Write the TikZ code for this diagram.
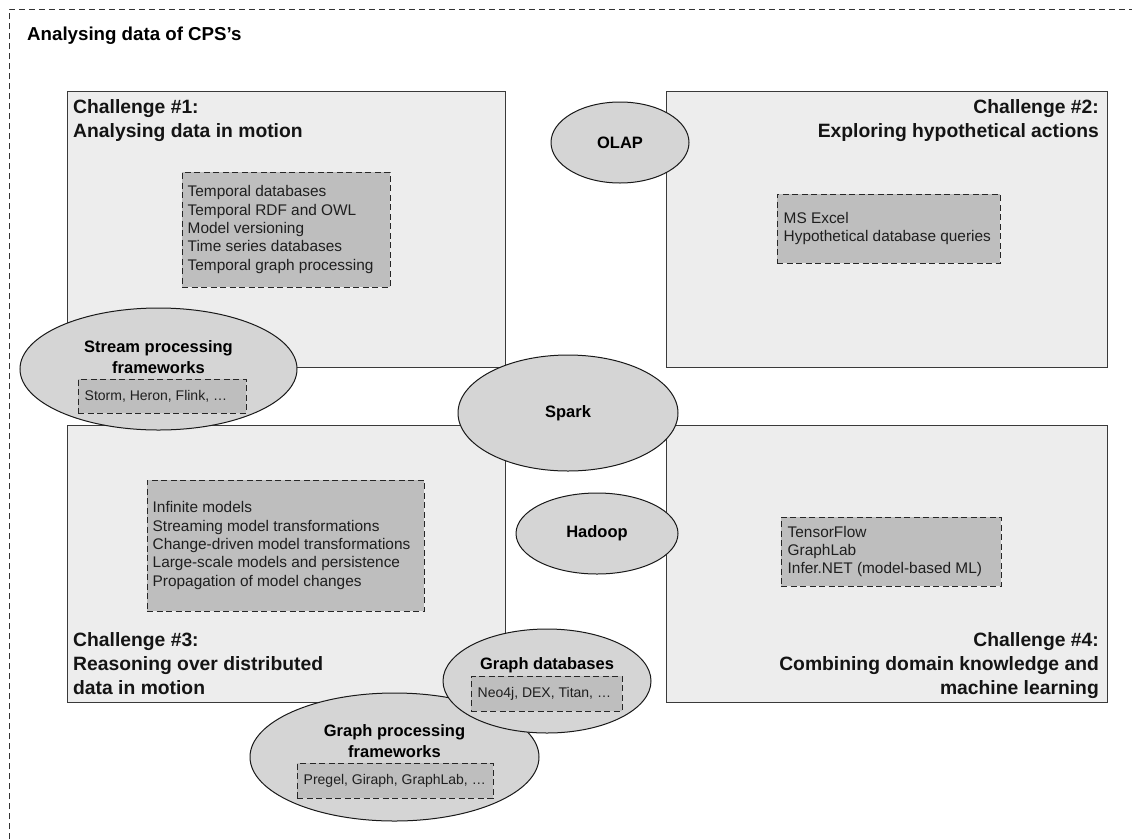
\documentclass[tikz,border=0pt]{standalone}
\usepackage{fontspec}
\setmainfont{Liberation Sans}
\usetikzlibrary{shapes.geometric}
\definecolor{boxfill}{HTML}{EDEDED}
\definecolor{ellfill}{HTML}{D5D5D5}
\definecolor{innerfill}{HTML}{BEBEBE}
\definecolor{boxline}{HTML}{3A3A3A}
\newcommand\myttl{\fontsize{18.7}{22}\selectfont\bfseries}
\newcommand\myhd{\fontsize{19.3}{24}\selectfont\bfseries}
\newcommand\mytx{\fontsize{15.4}{18.3}\selectfont}
\newcommand\mysm{\fontsize{14}{17}\selectfont}
\newcommand\myel{\fontsize{16.5}{21}\selectfont\bfseries}
\tikzset{
  chbox/.style={draw=boxline, line width=1.1pt, fill=boxfill, inner sep=0pt, anchor=north west},
  dbox/.style={draw=black!85, dash pattern=on 6pt off 3.5pt, line width=1pt, fill=innerfill, inner sep=0pt},
  ell/.style={ellipse, draw=black!90, line width=1pt, fill=ellfill, inner sep=0pt, font=\myel},
  hd/.style={inner sep=0pt, font=\myhd, text=black!92},
  itx/.style={inner sep=0pt, align=left, font=\mytx, text=black!88, anchor=west},
  stx/.style={inner sep=0pt, font=\mysm, text=black!88, anchor=west},
  elab/.style={inner sep=0pt, align=center, font=\myel, anchor=base},
  frame/.style={dash pattern=on 6pt off 4pt, line width=0.9pt, draw=black!80}
}
\begin{document}
\begin{tikzpicture}[x=1pt,y=-1pt]
\useasboundingbox (0,0) rectangle (1132,839);
% outer frame (continues beyond the picture)
\draw[frame] (9,839) -- (9,9) -- (1132,9);
\node[inner sep=0pt, font=\myttl, anchor=base west] (title) at (27,40) {Analysing data of CPS’s};

% challenge boxes
\node[chbox, minimum width=438pt, minimum height=276pt] (c1) at (67,91) {};
\node[chbox, minimum width=441pt, minimum height=276pt] (c2) at (666,91) {};
\node[chbox, minimum width=438pt, minimum height=277pt] (c3) at (67,425) {};
\node[chbox, minimum width=441pt, minimum height=277pt] (c4) at (666,425) {};

% headings (base anchor = baseline of the last line)
\node[hd, align=left, anchor=base west] (h1) at (73,137) {Challenge \#1:\\Analysing data in motion};
\node[hd, align=right, anchor=base east] (h2) at (1099,137) {Challenge \#2:\\Exploring hypothetical actions};
\node[hd, align=left, anchor=base west] (h3) at (73,694) {Challenge \#3:\\Reasoning over distributed\\data in motion};
\node[hd, align=right, anchor=base east] (h4) at (1099,694) {Challenge \#4:\\Combining domain knowledge and\\machine learning};

% inner dashed boxes
\node[dbox, minimum width=208pt, minimum height=115pt] (d1) at (286,229.5) {};
\node[itx] (t1) at ([xshift=6pt]d1.west) {Temporal databases\\Temporal RDF and OWL\\Model versioning\\Time series databases\\Temporal graph processing};
\node[dbox, minimum width=223pt, minimum height=69pt] (d2) at (888.5,228.5) {};
\node[itx] (t2) at ([xshift=7pt]d2.west) {MS Excel\\Hypothetical database queries};
\node[dbox, minimum width=277pt, minimum height=131pt] (d3) at (285.5,545.5) {};
\node[itx] (t3) at ([xshift=6pt]d3.west) {Infinite models\\Streaming model transformations\\Change-driven model transformations\\Large-scale models and persistence\\Propagation of model changes};
\node[dbox, minimum width=220pt, minimum height=69pt] (d4) at (891,551.5) {};
\node[itx] (t4) at ([xshift=7pt]d4.west) {TensorFlow\\GraphLab\\Infer.NET (model-based ML)};

% ellipses
\node[ell, minimum width=277pt, minimum height=122pt] (estream) at (158.5,369) {};
\node[elab] (lstream) at (158.5,373) {Stream processing\\frameworks};
\node[dbox, minimum width=168pt, minimum height=34pt] (s1) at (162,396) {};
\node[stx] (u1) at ([xshift=7pt]s1.west) {Storm, Heron, Flink, …};

\node[ell, minimum width=138pt, minimum height=81pt] (olap) at (620,142.5) {OLAP};
\node[ell, minimum width=220pt, minimum height=116pt] (spark) at (568,413) {Spark};
\node[ell, minimum width=162pt, minimum height=81pt] (hadoop) at (597,533.5) {Hadoop};

\node[ell, minimum width=289pt, minimum height=128pt] (egp) at (394.5,757) {};
\node[elab] (lgp) at (394.5,757) {Graph processing\\frameworks};
\node[dbox, minimum width=196pt, minimum height=35pt] (s3) at (395,780.5) {};
\node[stx] (u3) at ([xshift=7pt]s3.west) {Pregel, Giraph, GraphLab, …};

\node[ell, minimum width=208pt, minimum height=104pt] (egdb) at (547,681) {};
\node[elab] (lgdb) at (547,669) {Graph databases};
\node[dbox, minimum width=151pt, minimum height=35pt] (s2) at (546.5,693.5) {};
\node[stx] (u2) at ([xshift=7pt]s2.west) {Neo4j, DEX, Titan, …};
\end{tikzpicture}
\end{document}
